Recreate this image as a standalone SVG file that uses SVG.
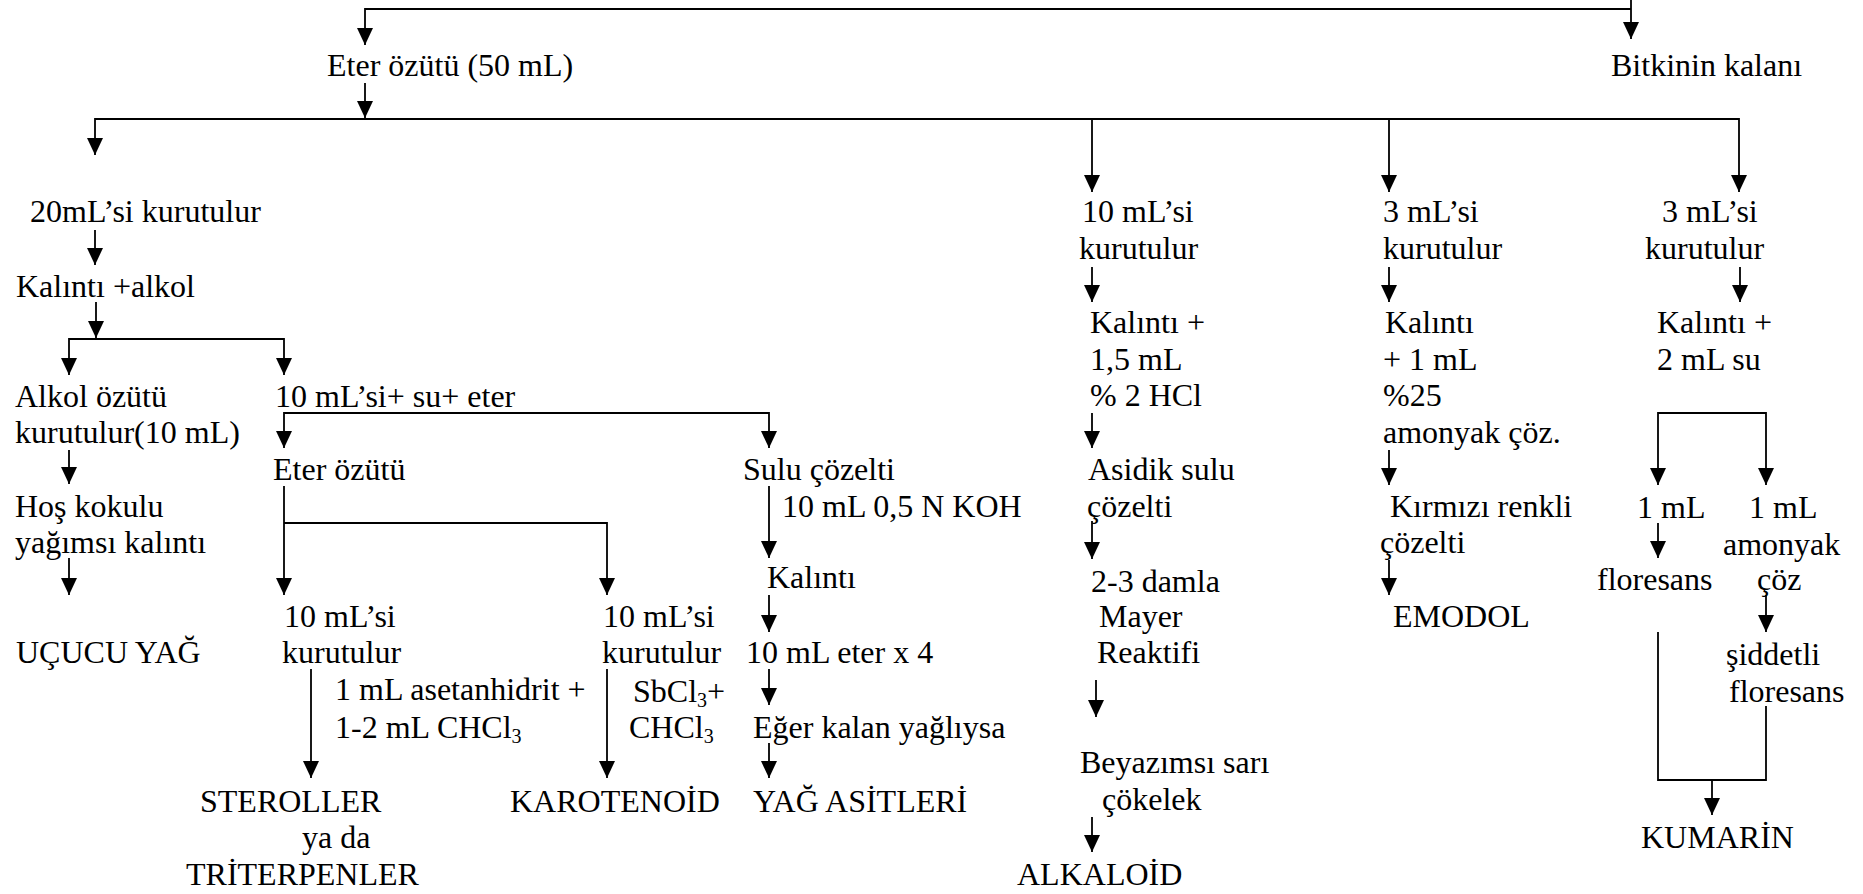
<svg xmlns="http://www.w3.org/2000/svg" xmlns:xlink="http://www.w3.org/1999/xlink" width="1863" height="894" viewBox="0 0 1863 894">
<defs>
<path id="ah" d="M-8,-17 L8,-17 L0,0 z" fill="#000"/>
<style>
text{font-family:"Liberation Serif","Times New Roman",serif;font-size:32px;fill:#000}
.c path{fill:none;stroke:#000;stroke-width:1.8}
.sub{font-size:20px}
</style>
</defs>
<rect width="1863" height="894" fill="#fff"/>
<g class="c" id="connectors">
<path d="M365,45 V9 H1631"/>
<path d="M1631,0 V39"/>
<path d="M365,83 V118"/>
<path d="M95,155 V119 H1739 V192"/>
<path d="M1092,119 V192"/>
<path d="M1389,119 V192"/>
<path d="M95,230 V265"/>
<path d="M96,302 V338"/>
<path d="M69,375 V339 H284 V375"/>
<path d="M69,450 V484"/>
<path d="M69,558 V595"/>
<path d="M284,448 V413 H769 V448"/>
<path d="M284,486 V595"/>
<path d="M284,523 H607 V595"/>
<path d="M311,669 V778"/>
<path d="M607,669 V778"/>
<path d="M769,486 V558"/>
<path d="M769,595 V632"/>
<path d="M769,669 V705"/>
<path d="M769,743 V778"/>
<path d="M1092,267 V302"/>
<path d="M1092,413 V448"/>
<path d="M1092,521 V559"/>
<path d="M1096,680 V717"/>
<path d="M1092,817 V852"/>
<path d="M1389,267 V302"/>
<path d="M1389,450 V485"/>
<path d="M1389,560 V595"/>
<path d="M1740,267 V302"/>
<path d="M1658,485 V413 H1766 V485"/>
<path d="M1658,523 V558"/>
<path d="M1766,595 V632"/>
<path d="M1658,632 V780 H1766 V706"/>
<path d="M1712,780 V815"/>
<use xlink:href="#ah" href="#ah" x="365" y="45"/>
<use xlink:href="#ah" href="#ah" x="1631" y="39"/>
<use xlink:href="#ah" href="#ah" x="365" y="118"/>
<use xlink:href="#ah" href="#ah" x="95" y="155"/>
<use xlink:href="#ah" href="#ah" x="1092" y="192"/>
<use xlink:href="#ah" href="#ah" x="1389" y="192"/>
<use xlink:href="#ah" href="#ah" x="1739" y="192"/>
<use xlink:href="#ah" href="#ah" x="95" y="265"/>
<use xlink:href="#ah" href="#ah" x="96" y="338"/>
<use xlink:href="#ah" href="#ah" x="69" y="375"/>
<use xlink:href="#ah" href="#ah" x="284" y="375"/>
<use xlink:href="#ah" href="#ah" x="69" y="484"/>
<use xlink:href="#ah" href="#ah" x="69" y="595"/>
<use xlink:href="#ah" href="#ah" x="284" y="448"/>
<use xlink:href="#ah" href="#ah" x="769" y="448"/>
<use xlink:href="#ah" href="#ah" x="284" y="595"/>
<use xlink:href="#ah" href="#ah" x="607" y="595"/>
<use xlink:href="#ah" href="#ah" x="311" y="778"/>
<use xlink:href="#ah" href="#ah" x="607" y="778"/>
<use xlink:href="#ah" href="#ah" x="769" y="558"/>
<use xlink:href="#ah" href="#ah" x="769" y="632"/>
<use xlink:href="#ah" href="#ah" x="769" y="705"/>
<use xlink:href="#ah" href="#ah" x="769" y="778"/>
<use xlink:href="#ah" href="#ah" x="1092" y="302"/>
<use xlink:href="#ah" href="#ah" x="1092" y="448"/>
<use xlink:href="#ah" href="#ah" x="1092" y="559"/>
<use xlink:href="#ah" href="#ah" x="1096" y="717"/>
<use xlink:href="#ah" href="#ah" x="1092" y="852"/>
<use xlink:href="#ah" href="#ah" x="1389" y="302"/>
<use xlink:href="#ah" href="#ah" x="1389" y="485"/>
<use xlink:href="#ah" href="#ah" x="1389" y="595"/>
<use xlink:href="#ah" href="#ah" x="1740" y="302"/>
<use xlink:href="#ah" href="#ah" x="1658" y="485"/>
<use xlink:href="#ah" href="#ah" x="1766" y="485"/>
<use xlink:href="#ah" href="#ah" x="1658" y="558"/>
<use xlink:href="#ah" href="#ah" x="1766" y="632"/>
<use xlink:href="#ah" href="#ah" x="1712" y="815"/>
</g>
<g id="n-eter"><text x="327" y="76">Eter özütü (50 mL)</text></g>
<g id="n-bitki"><text x="1611" y="76">Bitkinin kalanı</text></g>
<g id="n-20ml"><text x="30" y="222">20mL’si kurutulur</text></g>
<g id="n-kalinti-alkol"><text x="16" y="297">Kalıntı +alkol</text></g>
<g id="n-alkol-ozutu"><text x="15" y="407">Alkol özütü</text><text x="15" y="443">kurutulur(10 mL)</text></g>
<g id="n-hos"><text x="15" y="517">Hoş kokulu</text><text x="15" y="553">yağımsı kalıntı</text></g>
<g id="n-ucucu"><text x="16" y="663">UÇUCU YAĞ</text></g>
<g id="n-10ml-su"><text x="275" y="407">10 mL’si+ su+ eter</text></g>
<g id="n-eter2"><text x="273" y="480">Eter özütü</text></g>
<g id="n-10ml-a"><text x="284" y="627">10 mL’si</text><text x="282" y="663">kurutulur</text></g>
<g id="l-aset"><text x="335" y="700">1 mL asetanhidrit +</text><text x="335" y="738">1-2 mL CHCl<tspan class="sub" dy="5">3</tspan></text></g>
<g id="n-sterol"><text x="200" y="812">STEROLLER</text><text x="302" y="848">ya da</text><text x="186" y="885">TRİTERPENLER</text></g>
<g id="n-10ml-b"><text x="603" y="627">10 mL’si</text><text x="602" y="663">kurutulur</text></g>
<g id="l-sbcl"><text x="633" y="702">SbCl<tspan class="sub" dy="5">3</tspan><tspan dy="-5">+</tspan></text><text x="629" y="738">CHCl<tspan class="sub" dy="5">3</tspan></text></g>
<g id="n-karot"><text x="510" y="812">KAROTENOİD</text></g>
<g id="n-sulu"><text x="743" y="480">Sulu çözelti</text></g>
<g id="l-koh"><text x="782" y="517">10 mL 0,5 N KOH</text></g>
<g id="n-kalinti3"><text x="767" y="588">Kalıntı</text></g>
<g id="n-eterx4"><text x="746" y="663">10 mL eter x 4</text></g>
<g id="n-eger"><text x="753" y="738">Eğer kalan yağlıysa</text></g>
<g id="n-yag"><text x="753" y="812">YAĞ ASİTLERİ</text></g>
<g id="n-10ml-c"><text x="1082" y="222">10 mL’si</text><text x="1079" y="259">kurutulur</text></g>
<g id="n-hcl"><text x="1090" y="333">Kalıntı +</text><text x="1090" y="370">1,5 mL</text><text x="1090" y="406">% 2 HCl</text></g>
<g id="n-asidik"><text x="1088" y="480">Asidik sulu</text><text x="1087" y="517">çözelti</text></g>
<g id="n-mayer"><text x="1091" y="592">2-3 damla</text><text x="1099" y="627">Mayer</text><text x="1097" y="663">Reaktifi</text></g>
<g id="n-beyaz"><text x="1080" y="773">Beyazımsı sarı</text><text x="1102" y="810">çökelek</text></g>
<g id="n-alkaloid"><text x="1017" y="885">ALKALOİD</text></g>
<g id="n-3ml-a"><text x="1383" y="222">3 mL’si</text><text x="1383" y="259">kurutulur</text></g>
<g id="n-amonyak"><text x="1385" y="333">Kalıntı</text><text x="1383" y="370">+ 1 mL</text><text x="1383" y="406">%25</text><text x="1383" y="443">amonyak çöz.</text></g>
<g id="n-kirmizi"><text x="1390" y="517">Kırmızı renkli</text><text x="1380" y="553">çözelti</text></g>
<g id="n-emodol"><text x="1393" y="627">EMODOL</text></g>
<g id="n-3ml-b"><text x="1662" y="222">3 mL’si</text><text x="1645" y="259">kurutulur</text></g>
<g id="n-su"><text x="1657" y="333">Kalıntı +</text><text x="1657" y="370">2 mL su</text></g>
<g id="n-1ml-a"><text x="1637" y="518">1 mL</text></g>
<g id="n-flor"><text x="1597" y="590">floresans</text></g>
<g id="n-1ml-b"><text x="1749" y="518">1 mL</text><text x="1723" y="555">amonyak</text><text x="1757" y="590">çöz</text></g>
<g id="n-siddetli"><text x="1726" y="665">şiddetli</text><text x="1729" y="702">floresans</text></g>
<g id="n-kumarin"><text x="1641" y="848">KUMARİN</text></g>
</svg>
